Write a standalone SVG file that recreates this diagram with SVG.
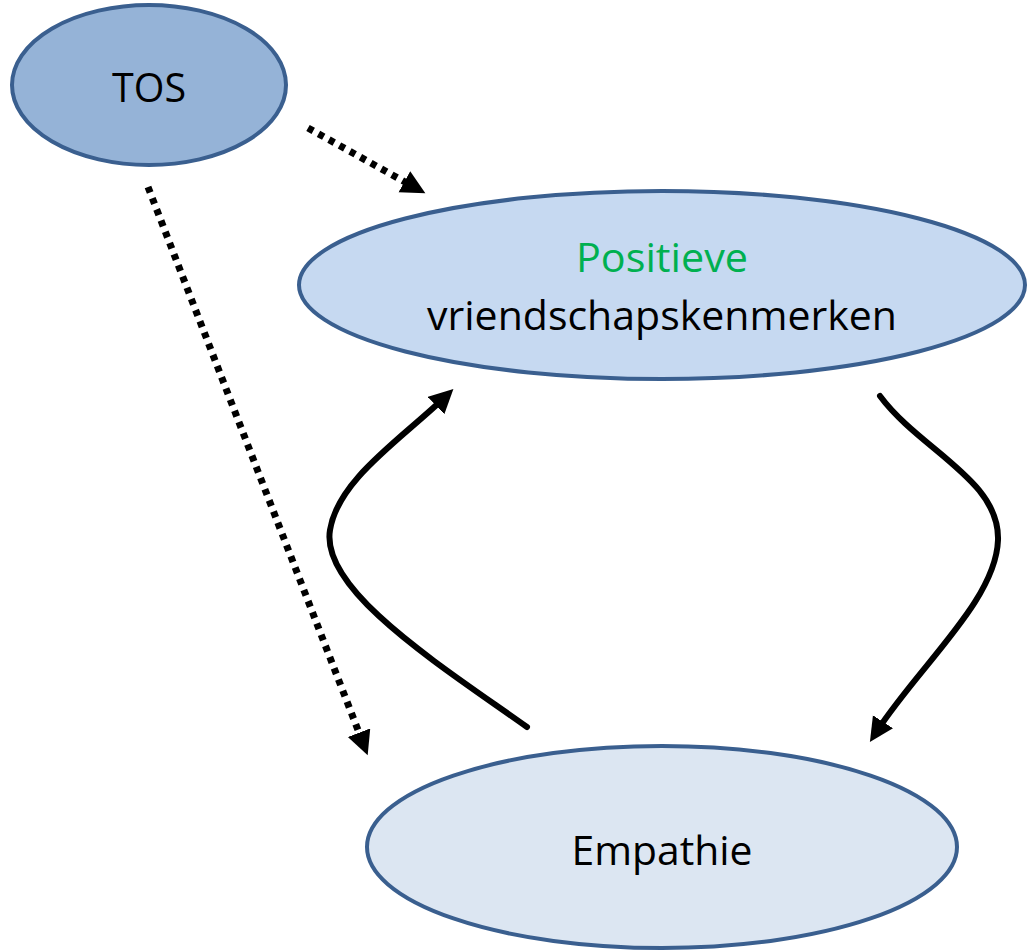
<svg xmlns="http://www.w3.org/2000/svg" width="1033" height="952" viewBox="0 0 1033 952">
<defs>
<marker id="ah" markerUnits="userSpaceOnUse" markerWidth="26" markerHeight="26" refX="11" refY="12" orient="auto"><path d="M0,0 L24,12 L0,24 z" fill="#000"/></marker>
<style>
.node{stroke:#3a5f8f;stroke-width:4}
.lbl{font-family:"Open Sans","Liberation Sans",sans-serif;font-size:40px;fill:#000;text-anchor:middle}
.dot{fill:none;stroke:#000;stroke-width:7;stroke-dasharray:6 6}
.solid{fill:none;stroke:#000;stroke-width:6;stroke-linecap:round}
</style>
</defs>
<rect width="1033" height="952" fill="#fff"/>
<g id="tos"><ellipse class="node" cx="149" cy="85" rx="137" ry="80" fill="#95b3d7"/><text class="lbl" x="149" y="102" textLength="74" lengthAdjust="spacingAndGlyphs">TOS</text></g>
<g id="positieve"><ellipse class="node" cx="662" cy="285" rx="363" ry="94" fill="#c6d9f1"/><text class="lbl" x="662" y="272" textLength="172" lengthAdjust="spacingAndGlyphs" style="fill:#00b050">Positieve</text><text class="lbl" x="662" y="330" textLength="470" lengthAdjust="spacingAndGlyphs">vriendschapskenmerken</text></g>
<g id="empathie"><ellipse class="node" cx="662" cy="847" rx="295" ry="101" fill="#dce6f2"/><text class="lbl" x="662" y="865" textLength="181" lengthAdjust="spacingAndGlyphs">Empathie</text></g>
<g id="connectors">
<path class="dot" d="M308,128 L414,187" marker-end="url(#ah)"/>
<path class="dot" d="M148,187 L363,743" marker-end="url(#ah)"/>
<path class="solid" d="M527,727 C440,665 320,590 330,530 C338,480 400,440 444,398" marker-end="url(#ah)"/>
<path class="solid" d="M880,396 C920,450 1000,480 998,540 C996,600 920,665 877,731" marker-end="url(#ah)"/>
</g>
</svg>
